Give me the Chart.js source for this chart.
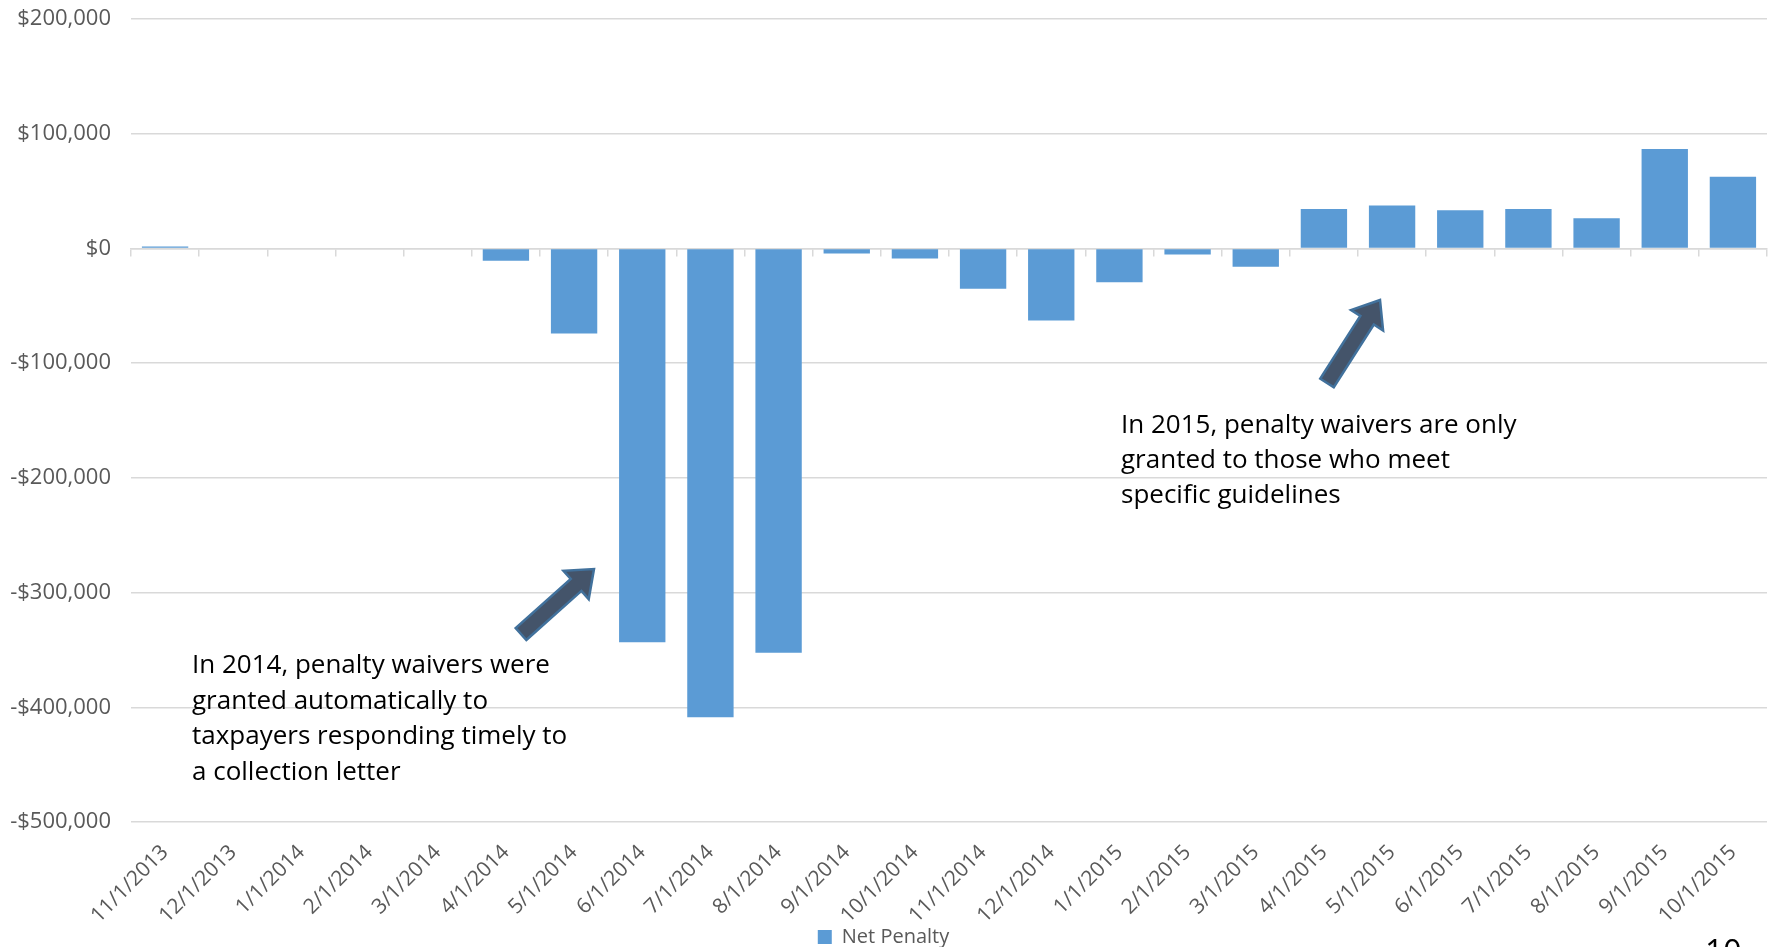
<!DOCTYPE html>
<html>
<head>
<meta charset="utf-8">
<script src="https://cdn.jsdelivr.net/npm/chart.js@4.4.1/dist/chart.umd.min.js"></script>
<style>
    body { margin: 0; background: #fff; }
    #wrap { width: 1775px; height: 947px; position: relative; }
</style>
</head>
<body>
<div id="wrap"><canvas id="chart"></canvas></div>
<script>
const months = ['11/1/2013', '12/1/2013', '1/1/2014', '2/1/2014', '3/1/2014', '4/1/2014', '5/1/2014', '6/1/2014',
    '7/1/2014', '8/1/2014', '9/1/2014', '10/1/2014', '11/1/2014', '12/1/2014', '1/1/2015', '2/1/2015',
    '3/1/2015', '4/1/2015', '5/1/2015', '6/1/2015', '7/1/2015', '8/1/2015', '9/1/2015', '10/1/2015']
const netPenalty = [1600, -800, -800, 0, -800, -10800, -74200, -343300, -408700, -352500, -4400, -8700,
    -35200, -62800, -29400, -5200, -16000, 34300, 37500, 33200, 34300, 26400, 86600, 62500]
const yTicks = { min: -500000, max: 200000, step: 100000 }

const note2014 = ['In 2014, penalty waivers were', 'granted automatically to', 'taxpayers responding timely to', 'a collection letter']
const note2015 = ['In 2015, penalty waivers are only', 'granted to those who meet', 'specific guidelines']

const FONT = "'Open Sans', 'Noto Sans', sans-serif"
const GRID = '#D9D9D9'
const TXT = '#595959'

function money(v) {
    const s = '$' + Math.abs(v).toLocaleString('en-US')
    return v < 0 ? '-' + s : s
}

// block arrow from tail to tip
function arrow(ctx, x1, y1, x2, y2) {
    const len = Math.hypot(x2 - x1, y2 - y1)
    const ux = (x2 - x1) / len, uy = (y2 - y1) / len
    const nx = -uy, ny = ux
    const shaft = 8, head = 19, headLen = 24
    const bx = x2 - ux * headLen, by = y2 - uy * headLen
    ctx.save()
    ctx.beginPath()
    ctx.moveTo(x1 + nx * shaft, y1 + ny * shaft)
    ctx.lineTo(bx + nx * shaft, by + ny * shaft)
    ctx.lineTo(bx + nx * head, by + ny * head)
    ctx.lineTo(x2, y2)
    ctx.lineTo(bx - nx * head, by - ny * head)
    ctx.lineTo(bx - nx * shaft, by - ny * shaft)
    ctx.lineTo(x1 - nx * shaft, y1 - ny * shaft)
    ctx.closePath()
    ctx.fillStyle = '#44546A'
    ctx.fill()
    ctx.lineWidth = 2.5
    ctx.strokeStyle = '#41719C'
    ctx.stroke()
    ctx.restore()
}

const notes = {
    id: 'notes',
    afterDraw(chart) {
        const ctx = chart.ctx
        ctx.save()
        ctx.fillStyle = '#000'
        ctx.font = '26px ' + FONT
        ctx.textBaseline = 'middle'
        note2014.forEach((t, i) => ctx.fillText(t, 192, 666 + i * 35.5))
        note2015.forEach((t, i) => ctx.fillText(t, 1121, 426 + i * 35))
        ctx.font = '32px ' + FONT
        ctx.textBaseline = 'top'
        ctx.fillText('10', 1705, 938)
        ctx.restore()
        arrow(ctx, 521, 634, 594, 569)
        arrow(ctx, 1327, 383, 1380, 300)
    }
}

window.onload = () => {
    const ctx = document.getElementById('chart').getContext('2d')
    new Chart(ctx, {
        type: 'bar',
        data: {
            labels: months,
            datasets: [{
                label: 'Net Penalty',
                data: netPenalty,
                backgroundColor: '#5B9BD5',
                borderWidth: 0,
                categoryPercentage: 1,
                barPercentage: 0.68,
            }]
        },
        options: {
            responsive: true,
            maintainAspectRatio: false,
            animation: false,
            layout: { padding: { top: 19, right: 8, left: 0, bottom: -10 } },
            plugins: {
                tooltip: { enabled: false },
                legend: {
                    position: 'bottom',
                    labels: { font: { family: FONT, size: 20 }, color: TXT, boxWidth: 14, boxHeight: 14, padding: 2 }
                }
            },
            scales: {
                x: {
                    grid: { display: false, drawTicks: false },
                    border: { display: false },
                    ticks: { font: { family: FONT, size: 21 }, color: TXT, minRotation: 45, maxRotation: 45, padding: 18, autoSkip: false },
                    afterFit: s => { s.height = 103 }
                },
                x2: {
                    type: 'category',
                    position: { y: 0 },
                    offset: true,
                    grid: { drawOnChartArea: false, tickLength: 7, color: GRID, lineWidth: 1.5, offset: true },
                    border: { color: GRID, width: 1.5 },
                    ticks: { display: false }
                },
                y: {
                    min: yTicks.min,
                    max: yTicks.max,
                    grid: { color: GRID, lineWidth: 1.5, drawTicks: false },
                    border: { display: false },
                    ticks: { stepSize: yTicks.step, font: { family: FONT, size: 22 }, color: TXT, padding: 20, callback: v => money(v) },
                    afterFit: s => { s.width = 131; s.paddingTop = 0; s.paddingBottom = 0 }
                }
            }
        },
        plugins: [notes]
    })
}
</script>
</body>
</html>
